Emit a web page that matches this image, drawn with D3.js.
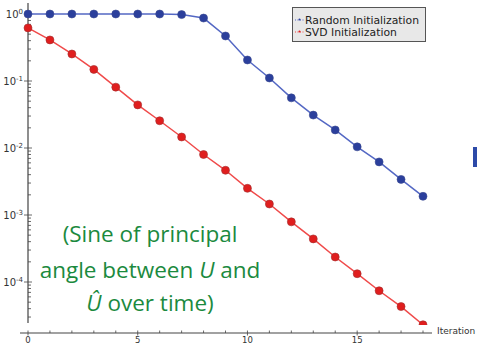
<!DOCTYPE html>
<html><head><meta charset="utf-8">
<script src="https://cdn.jsdelivr.net/npm/d3@7"></script>
<style>html,body{margin:0;padding:0;background:#fff;}svg{display:block;}</style>
</head><body>
<script>
const iterations = d3.range(0, 19);
const randomInit = [1.0,1.0,1.0,1.0,1.0,1.0,1.0,0.98,0.87,0.47,0.206,0.111,0.056,0.031,0.0186,0.0104,0.0062,0.0034,0.0019];
const svdInit = [0.62,0.41,0.253,0.149,0.081,0.044,0.0255,0.0146,0.0080,0.00465,0.0025,0.00146,0.00079,0.00044,0.000236,0.000133,0.000074,0.000043,0.000023];
const xTicks = [0,5,10,15];
const yTickExps = [0,-1,-2,-3,-4];
const seriesNames = ["Random Initialization","SVD Initialization"];
const noteLines = ["(Sine of principal", "angle between ", "over time)"];

const W = 477, H = 344;
const svg = d3.select("body").append("svg").attr("width", W).attr("height", H);

const x = d3.scaleLinear().domain([0, 18]).range([28, 423]);
const y = d3.scaleLog().domain([1, 1e-4]).range([14, 282]);
const yTop = 3, yBot = 323, xAxisY = 333;

svg.append("defs").append("clipPath").attr("id", "plotclip")
  .append("rect").attr("x", 0).attr("y", 0).attr("width", 440).attr("height", 325);

const axisColor = "#444";
svg.append("line").attr("x1", 28).attr("x2", 28).attr("y1", yTop).attr("y2", yBot)
  .attr("stroke", axisColor).attr("stroke-width", 1.2);
const lo = y.invert(yBot), hi = y.invert(yTop);
for (let e = -5; e <= 0; e++) {
  for (let m = 1; m <= 9; m++) {
    const v = m * Math.pow(10, e);
    if (v < lo || v > hi) continue;
    const yy = y(v);
    svg.append("line").attr("x1", m === 1 ? 24 : 28).attr("x2", m === 1 ? 32 : 31)
      .attr("y1", yy).attr("y2", yy).attr("stroke", axisColor).attr("stroke-width", 0.8);
  }
}
yTickExps.forEach(e => {
  const t = svg.append("text").attr("x", 23).attr("y", y(Math.pow(10, e)) + 3.5)
    .attr("text-anchor", "end").attr("font-family", "DejaVu Sans").attr("font-size", 10).attr("fill", "#333");
  t.append("tspan").text("10");
  t.append("tspan").attr("dy", -4).attr("font-size", 7).text(e === 0 ? "0" : "-" + (-e));
});

svg.append("line").attr("x1", 20).attr("x2", 432).attr("y1", xAxisY).attr("y2", xAxisY)
  .attr("stroke", axisColor).attr("stroke-width", 1.2);
iterations.forEach(i => {
  const major = xTicks.includes(i);
  svg.append("line").attr("x1", x(i)).attr("x2", x(i))
    .attr("y1", xAxisY - 2.5).attr("y2", major ? xAxisY + 2.5 : xAxisY)
    .attr("stroke", axisColor).attr("stroke-width", 0.8);
});
xTicks.forEach(t => {
  svg.append("text").attr("x", x(t)).attr("y", 343).attr("text-anchor", "middle")
    .attr("font-family", "DejaVu Sans").attr("font-size", 8.5).attr("fill", "#333").text(t);
});
svg.append("text").attr("x", 437).attr("y", 334).attr("font-family", "DejaVu Sans")
  .attr("font-size", 9).attr("fill", "#333").text("Iteration");

const line = d3.line().x((d, i) => x(iterations[i])).y(d => y(d));
const series = [
  {vals: randomInit, line: "#5468c4", fill: "#2b3f9c", stroke: "#3a4a90"},
  {vals: svdInit, line: "#f04a4a", fill: "#e01e1e", stroke: "#a03030"}
];
const plot = svg.append("g").attr("clip-path", "url(#plotclip)");
series.forEach(s => {
  plot.append("path").datum(s.vals).attr("d", line).attr("fill", "none")
    .attr("stroke", s.line).attr("stroke-width", 1.5);
  plot.selectAll(null).data(s.vals).enter().append("circle")
    .attr("cx", (d, i) => x(iterations[i])).attr("cy", d => y(d)).attr("r", 4)
    .attr("fill", s.fill).attr("stroke", s.stroke).attr("stroke-width", 0.6);
});

const lg = svg.append("g");
lg.append("rect").attr("x", 292.5).attr("y", 7.5).attr("width", 133).attr("height", 34)
  .attr("fill", "#e8e8e8").attr("stroke", "#555").attr("stroke-width", 1);
seriesNames.forEach((n, i) => {
  const yy = 20 + i * 12;
  lg.append("line").attr("x1", 295).attr("x2", 304).attr("y1", yy).attr("y2", yy)
    .attr("stroke", series[i].line).attr("stroke-width", 1).attr("stroke-dasharray", "1,1.5");
  lg.append("circle").attr("cx", 299.5).attr("cy", yy - 0.5).attr("r", 1).attr("fill", series[i].fill);
  lg.append("text").attr("x", 305).attr("y", 23.5 + i * 12).attr("font-family", "DejaVu Sans")
    .attr("font-size", 10.8).attr("fill", "#222").text(n);
});

const green = "#1b8a3e";
const note = svg.append("g").attr("font-family", "Open Sans").attr("font-size", 22.5).attr("fill", green)
  .attr("text-anchor", "middle");
note.append("text").attr("x", 150).attr("y", 242).text(noteLines[0]);
const t2 = note.append("text").attr("x", 150).attr("y", 278);
t2.append("tspan").text(noteLines[1]);
t2.append("tspan").attr("font-style", "italic").text("U");
t2.append("tspan").text(" and");
const t3 = note.append("text").attr("x", 150).attr("y", 311);
t3.append("tspan").attr("font-style", "italic").text("Û");
t3.append("tspan").text(" " + noteLines[2]);

svg.append("rect").attr("x", 473).attr("y", 147).attr("width", 4).attr("height", 20).attr("fill", "#2d4aa8");
</script>
</body></html>
